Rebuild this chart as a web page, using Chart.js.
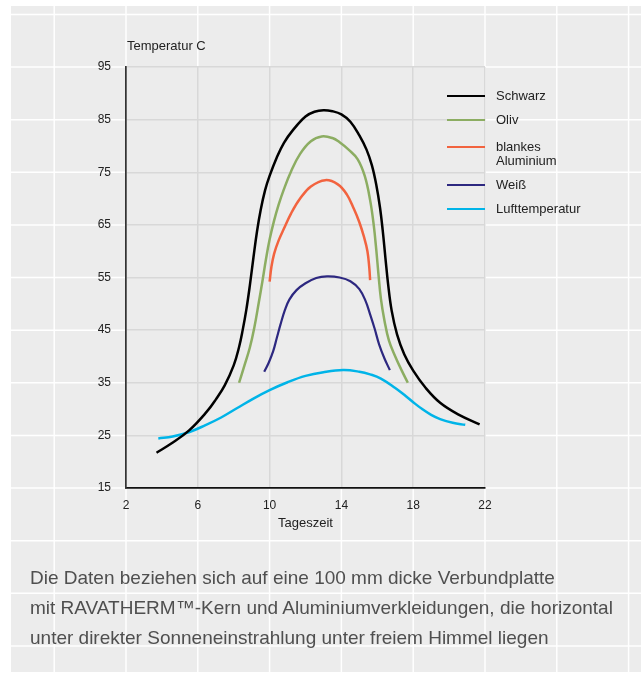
<!DOCTYPE html>
<html>
<head>
<meta charset="utf-8">
<script src="https://cdn.jsdelivr.net/npm/chart.js@4/dist/chart.umd.min.js"></script>
<style>
    body { margin: 0; background: #fff; }
    #wrap { position: relative; width: 641px; height: 673px; }
    #tempChart { position: absolute; left: 0; top: 0; }
    #note {
        position: absolute; left: 30px; top: 563px;
        font: 19px "Liberation Sans", Arial, sans-serif;
        line-height: 30px; color: #4f4f4f; white-space: nowrap;
    }
</style>
</head>
<body>
<div id="wrap">
    <canvas id="tempChart" width="641" height="673"></canvas>
    <div id="note">
        Die Daten beziehen sich auf eine 100 mm dicke Verbundplatte<br>
        mit RAVATHERM™-Kern und Aluminiumverkleidungen, die horizontal<br>
        unter direkter Sonneneinstrahlung unter freiem Himmel liegen
    </div>
</div>
<script>
// Tageszeit (h) / Temperatur (C)
const schwarzX = [3.7, 4.5, 5.5, 6.5, 7.0, 7.5, 8.0, 8.3, 8.5, 8.7, 8.9, 9.1, 9.3, 9.5, 9.75, 10.0, 10.4, 10.8, 11.3, 12.0, 12.5,
    13.0, 13.5, 14.0, 14.5, 15.0, 15.4, 15.7, 15.95, 16.15, 16.3, 16.45, 16.6, 16.8, 17.1, 17.5, 18.0, 18.7, 19.5, 20.5, 21.7];
const schwarzY = [21.7, 23.4, 25.9, 29.5, 31.8, 34.5, 38.3, 41.8, 45.0, 48.8, 53.5, 58.8, 63.8, 67.8, 71.6, 74.3, 77.8, 80.6, 83.0, 85.6, 86.5,
    86.8, 86.6, 86.0, 84.6, 82.0, 79.3, 76.3, 72.5, 68.3, 64.0, 58.8, 53.8, 48.7, 44.2, 40.4, 37.3, 34.0, 31.2, 29.0, 27.1];

const olivX = [8.3, 8.6, 8.9, 9.15, 9.4, 9.6, 9.8, 10.0, 10.25, 10.5, 10.8, 11.2, 11.7, 12.3, 12.9,
    13.5, 13.9, 14.4, 14.9, 15.3, 15.6, 15.8, 15.95, 16.06, 16.2, 16.4, 16.65, 17.0, 17.35, 17.7];
const olivY = [35.0, 38.3, 41.7, 45.5, 50.3, 54.3, 58.5, 62.2, 65.8, 68.8, 71.8, 75.2, 78.5, 80.9, 81.8,
    81.5, 80.7, 79.3, 77.5, 74.3, 69.7, 65.0, 60.0, 55.8, 51.0, 46.8, 43.0, 40.0, 37.4, 35.0];

const aluX = [10.0, 10.1, 10.25, 10.5, 10.8, 11.2, 11.7, 12.3, 13.1, 13.8, 14.3, 14.7, 15.0, 15.25, 15.45, 15.55, 15.6];
const aluY = [54.2, 57.0, 59.5, 62.0, 64.3, 67.2, 70.0, 72.3, 73.5, 72.7, 70.8, 68.0, 65.5, 62.8, 60.0, 57.0, 54.5];

const weissX = [9.7, 9.95, 10.2, 10.4, 10.6, 10.85, 11.1, 11.5, 12.0, 12.6, 13.2, 13.9, 14.5, 15.0, 15.35, 15.6, 15.85, 16.1, 16.4, 16.7];
const weissY = [37.1, 38.8, 41.0, 43.5, 46.0, 48.8, 50.8, 52.6, 53.9, 54.9, 55.2, 55.0, 54.3, 52.8, 50.5, 48.0, 45.3, 42.3, 39.6, 37.4];

const luftX = [3.8, 4.6, 5.5, 6.4, 7.3, 8.2, 9.1, 10.0, 11.0, 12.0, 13.0, 14.1, 15.0, 15.6, 16.2, 17.0, 17.5, 18.0, 18.5, 19.0, 19.5, 20.2, 20.9];
const luftY = [24.4, 24.8, 25.6, 26.9, 28.4, 30.2, 32.0, 33.6, 35.1, 36.3, 37.0, 37.4, 37.1, 36.6, 35.8, 34.0, 32.7, 31.3, 30.0, 28.9, 28.1, 27.4, 27.0];

const seriesNames = ['Schwarz', 'Oliv', 'blankes Aluminium', 'Weiß', 'Lufttemperatur'];
const seriesColors = ['#000000', '#8cad62', '#f2633f', '#2d2880', '#00b4e8'];

const xTicks = [2, 6, 10, 14, 18, 22];
const yTicks = [15, 25, 35, 45, 55, 65, 75, 85, 95];

const FONT = '"Liberation Sans", Arial, sans-serif';

function toPoints(xs, ys) {
    return xs.map((x, i) => ({ x: x, y: ys[i] }));
}

function makeDataset(i, xs, ys, width) {
    return {
        label: seriesNames[i],
        data: toPoints(xs, ys),
        borderColor: seriesColors[i],
        backgroundColor: seriesColors[i],
        borderWidth: width,
        pointRadius: 0,
        tension: 0.4,
        fill: false
    };
}

// page grid behind the chart + grey plot background
const pageGrid = {
    id: 'pageGrid',
    beforeDraw(chart) {
        const { ctx, chartArea, scales } = chart;
        const W = chart.width, H = chart.height;
        ctx.save();
        ctx.fillStyle = '#ffffff';
        ctx.fillRect(0, 0, W, H);
        ctx.fillStyle = '#ececec';
        ctx.fillRect(11, 6, W - 11, H - 7);
        ctx.strokeStyle = '#ffffff';
        ctx.lineWidth = 1.5;
        for (let v = -2; v <= 30; v += 4) {
            const x = scales.x.getPixelForValue(v);
            ctx.beginPath();
            ctx.moveTo(x, 6);
            ctx.lineTo(x, H);
            ctx.stroke();
        }
        for (let v = -15; v <= 105; v += 10) {
            const y = scales.y.getPixelForValue(v);
            ctx.beginPath();
            ctx.moveTo(11, y);
            ctx.lineTo(W, y);
            ctx.stroke();
        }
        ctx.fillStyle = '#ececec';
        ctx.fillRect(chartArea.left, chartArea.top, chartArea.right - chartArea.left, chartArea.bottom - chartArea.top);
        ctx.restore();
    }
};

// titles and legend
const labelsPlugin = {
    id: 'labelsPlugin',
    afterDraw(chart) {
        const { ctx, chartArea } = chart;
        ctx.save();
        ctx.font = '13px ' + FONT;
        ctx.fillStyle = '#222222';
        ctx.textBaseline = 'middle';
        ctx.textAlign = 'left';
        ctx.fillText('Temperatur C', chartArea.left + 1, 46);
        ctx.textAlign = 'center';
        ctx.fillText('Tageszeit', (chartArea.left + chartArea.right) / 2, chartArea.bottom + 35);

        const rows = [
            { y: 96, text: ['Schwarz'] },
            { y: 120, text: ['Oliv'] },
            { y: 147, text: ['blankes', 'Aluminium'] },
            { y: 185, text: ['Weiß'] },
            { y: 209, text: ['Lufttemperatur'] }
        ];
        ctx.textAlign = 'left';
        rows.forEach((r, i) => {
            ctx.strokeStyle = seriesColors[i];
            ctx.lineWidth = 2;
            ctx.beginPath();
            ctx.moveTo(447, r.y);
            ctx.lineTo(chartArea.right, r.y);
            ctx.stroke();
            r.text.forEach((t, j) => {
                ctx.fillText(t, 496, r.y + j * 14);
            });
        });
        ctx.restore();
    }
};

new Chart(document.getElementById('tempChart'), {
    type: 'line',
    data: {
        datasets: [
            makeDataset(0, schwarzX, schwarzY, 2.5),
            makeDataset(1, olivX, olivY, 2.5),
            makeDataset(2, aluX, aluY, 2.5),
            makeDataset(3, weissX, weissY, 2.2),
            makeDataset(4, luftX, luftY, 2.5)
        ]
    },
    options: {
        responsive: false,
        animation: false,
        layout: {
            padding: { left: 86, right: 156, top: 67, bottom: 155 }
        },
        scales: {
            x: {
                type: 'linear',
                min: 2,
                max: 22,
                afterFit: s => { s.height = 30; },
                afterBuildTicks: s => { s.ticks = xTicks.map(v => ({ value: v })); },
                grid: { color: '#d8d8d8', lineWidth: 1.5, drawTicks: false },
                border: { color: '#111111', width: 1.7 },
                ticks: { padding: 10, color: '#222222', font: { family: FONT, size: 12 } }
            },
            y: {
                min: 15,
                max: 95,
                afterFit: s => { s.width = 40; },
                afterBuildTicks: s => { s.ticks = yTicks.map(v => ({ value: v })); },
                grid: { color: '#d8d8d8', lineWidth: 1.5, drawTicks: false },
                border: { color: '#333333', width: 1.7 },
                ticks: { padding: 15, color: '#222222', font: { family: FONT, size: 12 } }
            }
        },
        plugins: {
            legend: { display: false },
            tooltip: { enabled: false }
        }
    },
    plugins: [pageGrid, labelsPlugin]
});
</script>
</body>
</html>
